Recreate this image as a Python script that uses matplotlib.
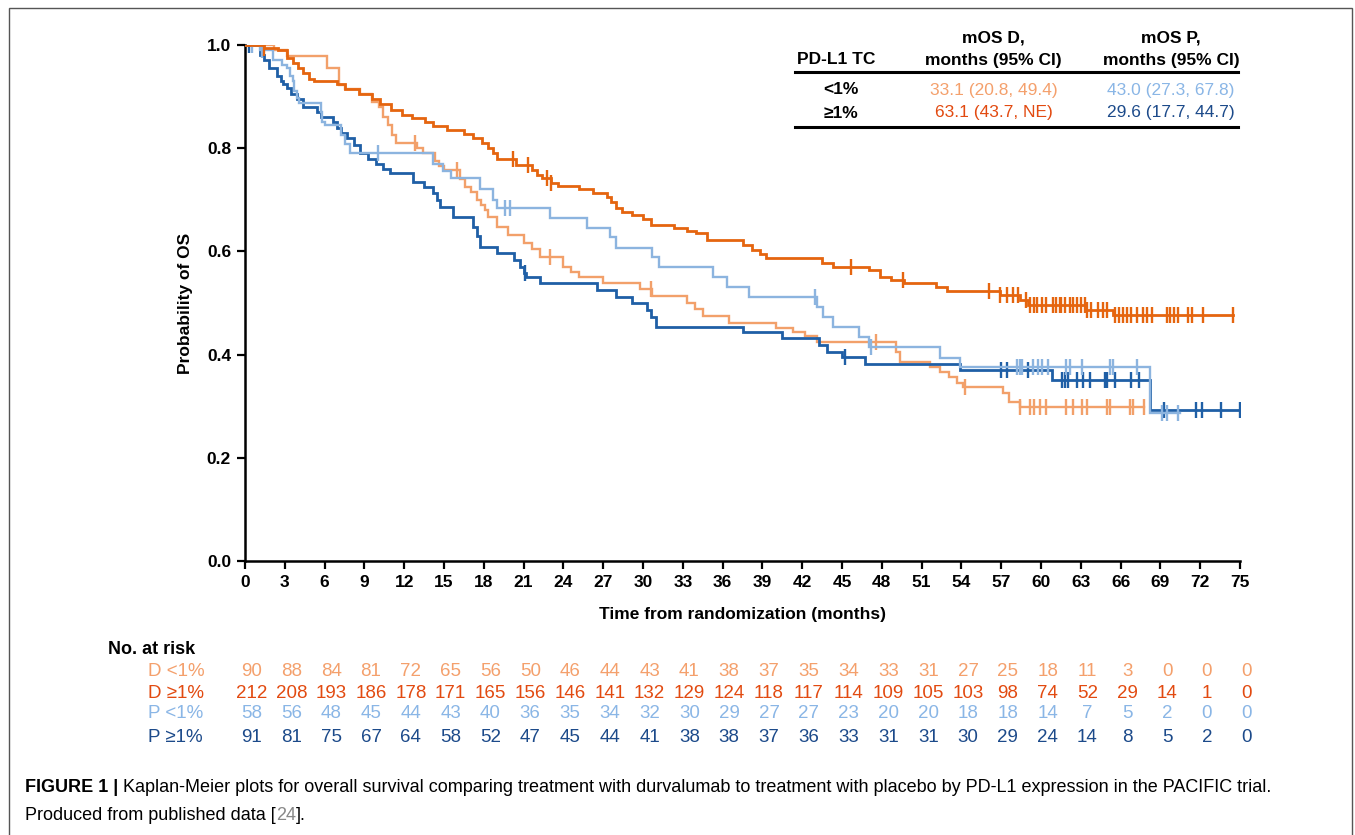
import numpy as np
import matplotlib
matplotlib.use("Agg")
import matplotlib.pyplot as plt
from matplotlib.patches import Rectangle
from matplotlib.lines import Line2D

plt.rcParams['font.family'] = ['Liberation Sans', 'DejaVu Sans']

# ---------------- data ----------------
# D >=1% (durvalumab, PD-L1 >=1%)
d_hi_t = [0, 1.4, 2.5, 3.2, 3.6, 4.0, 4.4, 4.8, 5.2, 6.9, 7.5, 8.6, 9.6, 10.2, 11.0, 11.8, 12.6, 13.6,
          14.2, 15.2, 16.5, 17.2, 17.9, 18.3, 18.7, 19.0, 20.4, 21.6, 22.0, 22.4, 23.1, 23.6, 25.2, 26.2,
          27.3, 27.6, 28.0, 28.4, 29.2, 30.0, 30.6, 32.3, 33.3, 34.0, 34.8, 37.5, 38.2, 38.8, 39.3, 43.5,
          44.3, 47.0, 47.9, 48.7, 49.7, 52.1, 52.9, 56.9, 58.4, 59.0, 63.4, 65.4, 74.5]
d_hi_s = [1.0, 0.995, 0.99, 0.975, 0.965, 0.955, 0.945, 0.935, 0.93, 0.925, 0.915, 0.905, 0.895, 0.885,
          0.875, 0.865, 0.858, 0.85, 0.843, 0.835, 0.828, 0.82, 0.81, 0.80, 0.79, 0.78, 0.767, 0.757,
          0.748, 0.742, 0.733, 0.727, 0.72, 0.713, 0.705, 0.695, 0.685, 0.677, 0.67, 0.663, 0.652, 0.645,
          0.64, 0.635, 0.622, 0.612, 0.603, 0.595, 0.587, 0.577, 0.57, 0.563, 0.55, 0.545, 0.539, 0.531,
          0.523, 0.516, 0.506, 0.496, 0.486, 0.477, 0.477]
d_hi_c = [1.4, 20.2, 21.3, 22.8, 23.1, 45.7, 49.6, 56.1, 56.9, 57.4, 57.9, 58.3, 58.9, 59.2, 59.5, 59.7,
          60.1, 60.4, 60.9, 61.1, 61.4, 61.5, 61.8, 62.2, 62.4, 62.7, 63.0, 63.3, 63.5, 63.8, 64.3, 64.7,
          65.0, 65.6, 65.9, 66.2, 66.5, 66.8, 67.2, 67.7, 68.0, 68.4, 69.5, 69.7, 70.0, 70.3, 71.1, 71.4,
          72.2, 74.5]

# D <1%
d_lo_t = [0, 2.2, 3.2, 6.2, 7.1, 7.5, 8.7, 9.6, 10.1, 10.4, 10.8, 11.1, 11.4, 13.0, 13.4, 14.3, 14.6,
          15.0, 16.2, 16.6, 17.0, 17.5, 17.8, 18.1, 18.3, 19.0, 19.8, 21.0, 21.6, 22.2, 24.0, 24.6, 25.2,
          27.0, 29.8, 30.7, 33.3, 33.9, 34.5, 36.5, 40.0, 41.3, 42.2, 43.1, 49.1, 49.4, 51.6, 52.4, 53.1,
          53.7, 54.1, 57.1, 57.6, 58.4, 67.8]
d_lo_s = [1.0, 0.99, 0.978, 0.955, 0.922, 0.915, 0.905, 0.89, 0.88, 0.86, 0.845, 0.825, 0.81, 0.80,
          0.79, 0.775, 0.765, 0.758, 0.74, 0.725, 0.715, 0.70, 0.69, 0.68, 0.667, 0.647, 0.632, 0.617,
          0.605, 0.589, 0.57, 0.56, 0.55, 0.539, 0.527, 0.514, 0.50, 0.488, 0.475, 0.461, 0.452, 0.444,
          0.436, 0.425, 0.405, 0.386, 0.376, 0.366, 0.357, 0.345, 0.337, 0.326, 0.308, 0.298, 0.298]
d_lo_c = [12.8, 16.0, 23.0, 30.6, 47.6, 54.3, 58.4, 59.2, 59.5, 59.9, 60.4, 61.9, 62.4, 63.1, 63.5,
          65.0, 65.2, 66.7, 66.9, 67.8]

# P <1% (placebo)
p_lo_t = [0, 1.1, 2.1, 2.8, 3.2, 3.4, 3.6, 3.7, 3.9, 4.1, 5.7, 5.8, 6.0, 7.2, 7.5, 7.9, 14.2, 14.9, 15.5,
          17.7, 18.7, 19.0, 23.0, 25.8, 27.5, 28.0, 30.7, 31.2, 35.3, 36.3, 38.0, 43.1, 43.6, 44.3, 46.3,
          47.0, 52.4, 53.9, 68.2, 70.5]
p_lo_s = [1.0, 0.99, 0.97, 0.962, 0.955, 0.94, 0.93, 0.91, 0.897, 0.888, 0.87, 0.85, 0.845, 0.825,
          0.808, 0.79, 0.77, 0.755, 0.742, 0.72, 0.70, 0.684, 0.665, 0.645, 0.628, 0.607, 0.589, 0.57,
          0.55, 0.531, 0.512, 0.492, 0.473, 0.453, 0.434, 0.415, 0.393, 0.376, 0.287, 0.287]
p_lo_c = [0.5, 1.3, 10.0, 19.6, 20.0, 43.0, 47.2, 58.2, 58.4, 58.6, 59.4, 59.8, 60.1, 60.5, 61.9, 62.2,
          63.1, 65.2, 65.4, 67.2, 69.1, 69.5, 70.3]

# P >=1%
p_hi_t = [0, 1.1, 1.4, 1.8, 2.4, 2.7, 2.9, 3.2, 3.5, 3.9, 4.4, 5.4, 5.7, 6.6, 6.9, 7.2, 7.7, 8.2, 8.7,
          9.3, 9.9, 10.4, 10.9, 12.7, 13.5, 14.2, 14.5, 14.7, 15.7, 17.2, 17.5, 17.7, 19.0, 20.3, 20.7,
          21.0, 21.2, 22.2, 26.5, 28.0, 29.2, 30.3, 30.6, 31.0, 37.5, 40.5, 43.3, 43.9, 45.0, 46.7, 53.9,
          60.8, 68.2, 75.0]
p_hi_s = [1.0, 0.98, 0.97, 0.955, 0.94, 0.93, 0.925, 0.917, 0.905, 0.895, 0.88, 0.87, 0.86, 0.85, 0.84,
          0.83, 0.82, 0.806, 0.79, 0.78, 0.77, 0.76, 0.752, 0.735, 0.725, 0.713, 0.70, 0.686, 0.667,
          0.647, 0.63, 0.609, 0.597, 0.583, 0.57, 0.558, 0.55, 0.539, 0.525, 0.512, 0.50, 0.486, 0.472,
          0.453, 0.444, 0.432, 0.419, 0.405, 0.395, 0.382, 0.37, 0.351, 0.293, 0.293]
p_hi_c = [0.3, 21.1, 45.2, 57.0, 57.4, 59.0, 61.6, 61.8, 62.0, 62.7, 63.2, 63.7, 64.8, 65.0, 65.6,
          66.8, 67.4, 69.3, 71.7, 72.1, 73.6, 75.0]

# number at risk
risk_times = list(range(0, 76, 3))
risk_labels = ["D <1%", "D \u22651%", "P <1%", "P \u22651%"]
risk_d_lo = [90, 88, 84, 81, 72, 65, 56, 50, 46, 44, 43, 41, 38, 37, 35, 34, 33, 31, 27, 25, 18, 11, 3, 0, 0, 0]
risk_d_hi = [212, 208, 193, 186, 178, 171, 165, 156, 146, 141, 132, 129, 124, 118, 117, 114, 109, 105,
             103, 98, 74, 52, 29, 14, 1, 0]
risk_p_lo = [58, 56, 48, 45, 44, 43, 40, 36, 35, 34, 32, 30, 29, 27, 27, 23, 20, 20, 18, 18, 14, 7, 5, 2, 0, 0]
risk_p_hi = [91, 81, 75, 67, 64, 58, 52, 47, 45, 44, 41, 38, 38, 37, 36, 33, 31, 31, 30, 29, 24, 14, 8, 5, 2, 0]

# median OS table
tbl_groups = ["<1%", "\u22651%"]
tbl_mos_d = ["33.1 (20.8, 49.4)", "63.1 (43.7, NE)"]
tbl_mos_p = ["43.0 (27.3, 67.8)", "29.6 (17.7, 44.7)"]

# ---------------- styles ----------------
C_DLO = "#F2A06A"
C_DHI = "#E5650F"
C_PLO = "#8CB4DF"
C_PHI = "#1F5FA6"
T_DLO = "#F4A06C"
T_DHI = "#E24A10"
T_PLO = "#8AB6E6"
T_PHI = "#1C4A8A"

W, H = 1355, 835
fig = plt.figure(figsize=(W / 100, H / 100), dpi=100)


def fx(px):
    return px / W


def fy(py):
    return 1 - py / H


ax = fig.add_axes([fx(245), fy(561), fx(1240) - fx(245), fy(45) - fy(561)])
ax.set_xlim(0, 75)
ax.set_ylim(0, 1.0)
ax.set_facecolor("none")


def km(t, s, c, col, lw, z):
    t = np.asarray(t, float)
    s = np.asarray(s, float)
    ax.step(t, s, where="post", color=col, lw=lw, zorder=z, solid_joinstyle="miter")
    c = np.asarray(c, float)
    idx = np.searchsorted(t, c, side="right") - 1
    ax.plot(c, s[idx], ls="none", marker="|", ms=11, mew=1.7, color=col, zorder=z)


km(d_lo_t, d_lo_s, d_lo_c, C_DLO, 1.7, 3)
km(p_hi_t, p_hi_s, p_hi_c, C_PHI, 2.0, 4)
km(p_lo_t, p_lo_s, p_lo_c, C_PLO, 1.7, 5)
km(d_hi_t, d_hi_s, d_hi_c, C_DHI, 2.0, 6)

for sp in ["top", "right"]:
    ax.spines[sp].set_visible(False)
for sp in ["left", "bottom"]:
    ax.spines[sp].set_linewidth(1.8)
ax.set_xticks(risk_times)
ax.set_yticks([0, 0.2, 0.4, 0.6, 0.8, 1.0])
ax.set_yticklabels(["0.0", "0.2", "0.4", "0.6", "0.8", "1.0"])
ax.tick_params(direction="out", length=6, width=1.6, labelsize=12.5, pad=4)
for lab in ax.get_xticklabels() + ax.get_yticklabels():
    lab.set_fontweight("bold")
ax.set_xlabel("Time from randomization (months)", fontsize=12.5, fontweight="bold", labelpad=12)
ax.set_ylabel("Probability of OS", fontsize=12.5, fontweight="bold", labelpad=10)

# ---------------- median OS table ----------------
hdr = dict(ha="center", va="center", fontsize=12.5, fontweight="bold", color="black")
fig.text(fx(836), fy(60), "PD-L1 TC", **hdr)
fig.text(fx(993), fy(38), "mOS D,", **hdr)
fig.text(fx(993), fy(60), "months (95% CI)", **hdr)
fig.text(fx(1171), fy(38), "mOS P,", **hdr)
fig.text(fx(1171), fy(60), "months (95% CI)", **hdr)
fig.add_artist(Line2D([fx(795), fx(1238)], [fy(72), fy(72)], color="black", lw=2.2))
fig.add_artist(Line2D([fx(795), fx(1238)], [fy(127), fy(127)], color="black", lw=2.2))
row_y = [90, 113]
d_cols = [T_DLO, T_DHI]
p_cols = [T_PLO, T_PHI]
for i in range(2):
    fig.text(fx(841), fy(row_y[i]), tbl_groups[i], ha="center", va="center", fontsize=12.5,
             fontweight="bold", color="black")
    fig.text(fx(994), fy(row_y[i]), tbl_mos_d[i], ha="center", va="center", fontsize=12.5, color=d_cols[i])
    fig.text(fx(1171), fy(row_y[i]), tbl_mos_p[i], ha="center", va="center", fontsize=12.5, color=p_cols[i])

# ---------------- number at risk ----------------
fig.text(fx(108), fy(650), "No. at risk", ha="left", va="center", fontsize=13, fontweight="bold")
risk_rows = [risk_d_lo, risk_d_hi, risk_p_lo, risk_p_hi]
risk_cols = [T_DLO, T_DHI, T_PLO, T_PHI]
risk_y = [672, 693, 714, 737]
blend = matplotlib.transforms.blended_transform_factory(ax.transData, fig.transFigure)
for lab, vals, col, yy in zip(risk_labels, risk_rows, risk_cols, risk_y):
    fig.text(fx(148), fy(yy), lab, ha="left", va="center", fontsize=13.5, color=col)
    for t, v in zip(risk_times, vals):
        ax.text(t + 0.5, fy(yy), str(v), transform=blend, ha="center", va="center",
                fontsize=13.5, color=col, clip_on=False)

# ---------------- caption ----------------
t1 = fig.text(fx(25), fy(787), "FIGURE 1 | ", ha="left", va="center", fontsize=13, fontweight="bold")
fig.canvas.draw()
bb = t1.get_window_extent()
fig.text(bb.x1 / W, fy(787),
         "Kaplan-Meier plots for overall survival comparing treatment with durvalumab to treatment with "
         "placebo by PD-L1 expression in the PACIFIC trial.",
         ha="left", va="center", fontsize=13)
t3 = fig.text(fx(25), fy(815), "Produced from published data [", ha="left", va="center", fontsize=13)
fig.canvas.draw()
b3 = t3.get_window_extent()
t4 = fig.text(b3.x1 / W, fy(815), "24", ha="left", va="center", fontsize=13, color="#888888")
fig.canvas.draw()
b4 = t4.get_window_extent()
fig.text(b4.x1 / W, fy(815), "].", ha="left", va="center", fontsize=13)

# outer frame
fig.add_artist(Rectangle((fx(9), fy(900)), fx(1352) - fx(9), fy(8) - fy(900), fill=False,
                         edgecolor="#555555", lw=1.0, transform=fig.transFigure))

fig.savefig("out.png", dpi=100)
